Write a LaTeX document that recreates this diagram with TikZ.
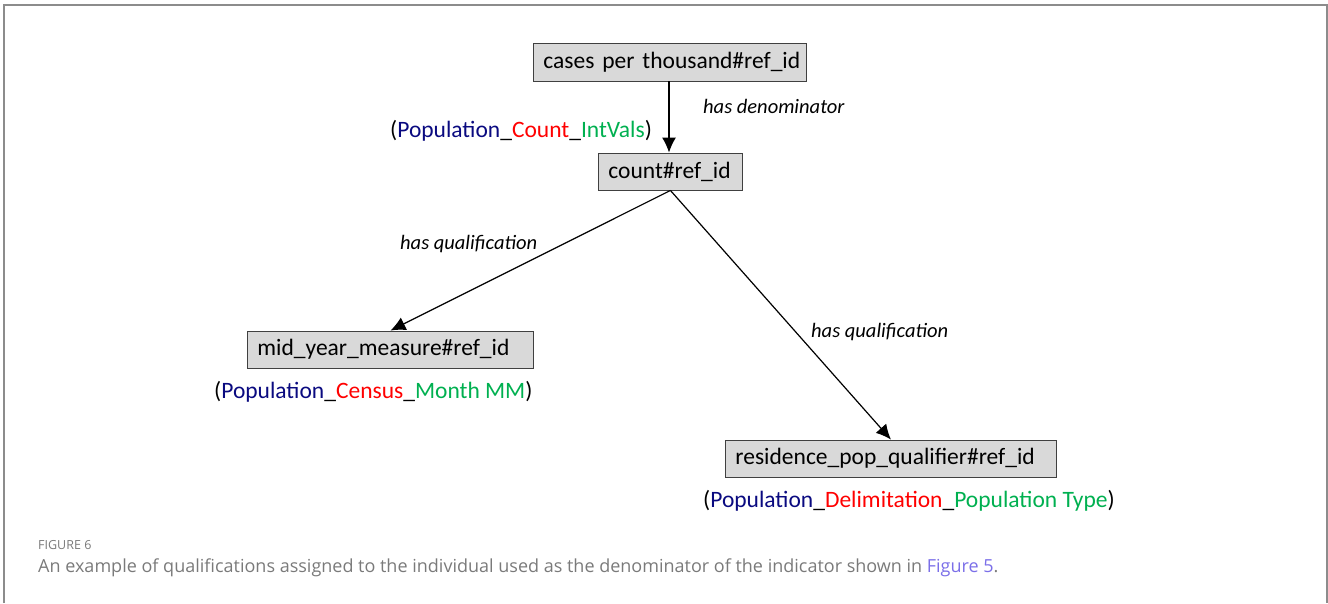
\documentclass[tikz,border=0pt]{standalone}
\usepackage{fontspec}
\setmainfont{Carlito}
\newfontfamily\capfont{Open Sans}
\usetikzlibrary{arrows.meta}
\definecolor{boxfill}{HTML}{D9D9D9}
\definecolor{boxline}{HTML}{404040}
\definecolor{framegray}{HTML}{8C8C8C}
\definecolor{capgray}{HTML}{7A7A7A}
\definecolor{linkblue}{HTML}{7B6FE8}
\definecolor{popblue}{HTML}{0A0A80}
\definecolor{popred}{HTML}{FF0000}
\definecolor{popgreen}{HTML}{00B050}
\newcommand{\poplabel}[3]{(\textcolor{popblue}{#1}\_\textcolor{popred}{#2}\_\textcolor{popgreen}{#3})}
\begin{document}
\begin{tikzpicture}[x=1pt,y=-1pt,
  entity/.style={draw=boxline, fill=boxfill, line width=0.9pt, anchor=west,
    inner xsep=10pt, inner ysep=0pt, minimum height=37pt, align=left,
    font=\fontsize{23.5}{28}\selectfont},
  rel/.style={anchor=west, inner sep=0pt, font=\fontsize{20.5}{24}\selectfont\itshape},
  tag/.style={anchor=west, inner sep=0pt, font=\fontsize{23.5}{28}\selectfont},
  link/.style={draw=black, line width=1.2pt, -{Latex[length=15pt,width=14pt]}}]
\useasboundingbox (0,0) rectangle (1328,603);
% open frame around the figure
\draw[framegray, line width=2pt] (4,603) -- (4,5) -- (1327,5) -- (1327,603);

% individuals
\node[entity, text width=253pt, minimum height=38pt] (cases) at (533,62) {\mbox{cases per thousand\#ref\_id}};
\node[entity, text width=124pt] (count) at (598,171.5) {\mbox{count\#ref\_id}};
\node[entity, text width=266pt] (mid) at (247,349.5) {\mbox{mid\_year\_measure\#ref\_id}};
\node[entity, text width=311pt] (res) at (725,458.5) {\mbox{residence\_pop\_qualifier\#ref\_id}};

% relations
\draw[link] (cases.south -| 669,0) -- (count.north -| 669,0);
\draw[link] (count.south) -- (mid.north);
\draw[link] (count.south) -- (res.north);

\node[rel] (l1) at (703,106) {has denominator};
\node[rel] (l2) at (400,244) {has qualification};
\node[rel] (l3) at (811,332) {has qualification};

% classifications
\node[tag] (t1) at (390,131) {\poplabel{Population}{Count}{IntVals}};
\node[tag] (t2) at (214,392) {\poplabel{Population}{Census}{Month MM}};
\node[tag] (t3) at (703,501) {\poplabel{Population}{Delimitation}{Population Type}};

% caption
\node[anchor=west, inner sep=0pt, text=capgray, font=\capfont\fontsize{12.5}{15}\selectfont] (fig) at (38,545) {FIGURE 6};
\node[anchor=west, inner sep=0pt, text=capgray, font=\capfont\fontsize{18}{22}\selectfont] (cap) at (38,568)
  {An example of qualifications assigned to the individual used as the denominator of the indicator shown in \textcolor{linkblue}{Figure 5}.};
\end{tikzpicture}
\end{document}
